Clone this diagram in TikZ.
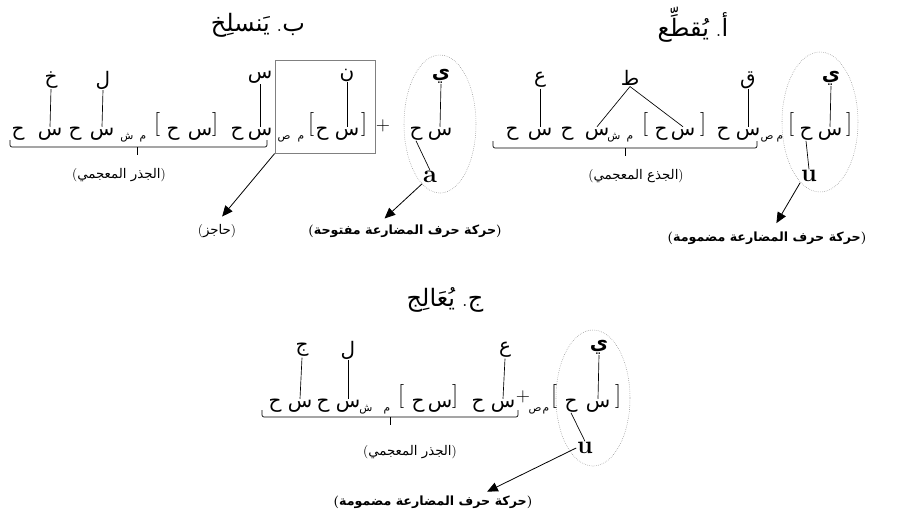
\documentclass[tikz,border=0pt]{standalone}
\usepackage{fontspec}
\usepackage{tikz}
\usetikzlibrary{positioning,arrows.meta}
\newfontfamily\ar[Script=Arabic]{DejaVu Sans}
\TeXXeTstate=1
\newcommand{\lp}{{\rmfamily(}}
\newcommand{\rp}{{\rmfamily)}}

\tikzset{
  seg/.style={font=\ar\fontsize{15}{17}\selectfont, inner sep=0.5pt, anchor=base},
  rootl/.style={font=\ar\fontsize{15}{17}\selectfont, inner sep=0.5pt},
  prefl/.style={font=\ar\bfseries\fontsize{15}{17}\selectfont, inner sep=0.5pt},
  tag/.style={font=\ar\fontsize{8}{9}\selectfont, inner sep=0pt, anchor=base},
  brk/.style={font=\fontsize{18}{20}\selectfont, inner sep=0pt},
  vowel/.style={font=\bfseries\fontsize{19}{20}\selectfont, inner sep=0.5pt},
  gloss/.style={font=\ar\fontsize{10}{12}\selectfont, inner sep=1pt},
  note/.style={font=\ar\bfseries\fontsize{9.5}{11}\selectfont, inner sep=1pt},
  ttl/.style={font=\ar\fontsize{18}{20}\selectfont},
  ring/.style={draw=gray, densely dotted, line width=0.4pt},
  link/.style={line width=0.5pt},
  pointer/.style={-{Triangle[length=8pt,width=7pt]}, line width=0.6pt},
  brace/.style={line width=0.5pt, rounded corners=1.5pt}
}

\begin{document}
\begin{tikzpicture}[x=0.75pt,y=-0.75pt]
\useasboundingbox (0,0) rectangle (900,519);

% ---- a. yuqatti3
\node[ttl] (titleA) at (693,25) {يُقطِّع\hspace{5pt}{\rmfamily.}أ};
\foreach \n/\x/\t in {V1/512/ح, C1/540/س, V2/567/ح, C2/597/س, V3/661/ح, C3/683/س,
    V4/723/ح, C4/748/س, V5/806/ح, C5/830/س}
  \node[seg] (a\n) at (\x,135) {\t};
\foreach \x/\t in {645/[, 703/], 791/[, 849/]}
  \node[brk] at (\x,124) {\t};
\node[tag] (aT1) at (614,139) {ش};
\node[tag] (aT2) at (630,139) {م};
\node[tag] (aT3) at (767,139) {ص};
\node[tag] (aT4) at (780,139) {م};
\node[rootl] (aAin) at (540,80) {ع};
\node[rootl] (aTa) at (630,78) {ط};
\node[rootl] (aQaf) at (748,80) {ق};
\node[prefl] (aYa) at (831,78) {ي};
\draw[link] (aAin.south) -- (aC1.north);
\draw[link] (aTa.south) -- (aC2.north);
\draw[link] (aTa.south) -- (aC3.north);
\draw[link] (aQaf.south) -- (aC4.north);
\draw[link] (aYa.south) -- (aC5.north);
\draw[brace] (493,141) -- (493,148) -- (757,148) -- (757,141);
\draw[link] (625,148) -- (625,156);
\node[gloss] (stemA) at (636,176) {\lp\beginR الجذع المعجمي\endR\rp};
\draw[ring] (820,122) ellipse [x radius=38, y radius=70];
\node[vowel] (vowA) at (809,176) {u};
\draw[link] (aV5.south) -- (vowA.north);
\node[note] (noteA) at (767,238) {\lp\beginR حركة حرف المضارعة مضمومة\endR\rp};
\draw[pointer, shorten >=6pt] (vowA.south west) -- ([xshift=4pt]noteA.north);

% ---- b. yansalix
\node[ttl] (titleB) at (258,25) {يَنسلِخ\hspace{5pt}{\rmfamily.}ب};
\foreach \n/\x/\t in {V1/18/ح, C1/50/س, V2/75/ح, C2/102/س, V3/173/ح, C3/200/س,
    V4/237/ح, C4/260/س, V5/322/ح, C5/347/س, V6/416/ح, C6/440/س}
  \node[seg] (b\n) at (\x,135) {\t};
\foreach \x/\t in {157/[, 215/], 311/[, 364/]}
  \node[brk] at (\x,124) {\t};
\node[tag] (bT1) at (127,139) {ش};
\node[tag] (bT2) at (143,139) {م};
\node[tag] (bT3) at (284,139) {ص};
\node[tag] (bT4) at (301,139) {م};
\node[font=\fontsize{14}{16}\selectfont] (bPlus) at (383,126) {+};
\node[rootl] (bXa) at (51,80) {خ};
\node[rootl] (bLam) at (103,80) {ل};
\node[rootl] (bSin) at (260,77) {س};
\node[rootl] (bNun) at (347,75) {ن};
\node[prefl] (bYa) at (441,76) {ي};
\draw[link] (bXa.south) -- (bC1.north);
\draw[link] (bLam.south) -- (bC2.north);
\draw[link] (bSin.south) -- (bC4.north);
\draw[link] (bNun.south) -- (bC5.north);
\draw[link] (bYa.south) -- (bC6.north);
\node[draw=gray, line width=0.5pt, minimum width=75pt, minimum height=70pt] (wall) at (325,106.5) {};
\draw[brace] (10,140) -- (10,147) -- (267,147) -- (267,140);
\draw[link] (137,147) -- (137,155);
\node[gloss] (rootB) at (119,175) {\lp\beginR الجذر المعجمي\endR\rp};
\draw[ring] (440,124) ellipse [x radius=36, y radius=69];
\node[vowel] (vowB) at (430,177) {a};
\draw[link] (bV6.south) -- (vowB.north);
\node[gloss] (barrier) at (217,231) {\lp\beginR حاجز\endR\rp};
\node[note] (noteB) at (405,231) {\lp\beginR حركة حرف المضارعة مفتوحة\endR\rp};
\draw[pointer, shorten >=6pt] (wall.south west) -- (barrier.north);
\draw[pointer, shorten >=5pt] (vowB.south west) -- ([xshift=-19pt]noteB.north);

% ---- c. yu3alij
\node[ttl] (titleC) at (445,300) {يُعَالِج\hspace{5pt}{\rmfamily.}ج};
\foreach \n/\x/\t in {V1/275/ح, C1/300/س, V2/323/ح, C2/348/س, V3/418/ح, C3/440/س,
    V4/478/ح, C4/503/س, V5/571/ح, C5/598/س}
  \node[seg] (c\n) at (\x,407) {\t};
\foreach \x/\t in {401/[, 455/], 554/[, 618/]}
  \node[brk] at (\x,396) {\t};
\node[tag] (cT1) at (366,411) {ش};
\node[tag] (cT2) at (387,411) {م};
\node[tag] (cT3) at (535,411) {ص};
\node[tag] (cT4) at (546,411) {م};
\node[font=\fontsize{14}{16}\selectfont] (cPlus) at (523,397) {+};
\node[rootl] (cJim) at (302,350) {ج};
\node[rootl] (cLam) at (348,350) {ل};
\node[rootl] (cAin) at (505,350) {ع};
\node[prefl] (cYa) at (599,347) {ي};
\draw[link] (cJim.south) -- (cC1.north);
\draw[link] (cLam.south) -- (cC2.north);
\draw[link] (cAin.south) -- (cC4.north);
\draw[link] (cYa.south) -- (cC5.north);
\draw[brace] (262,410) -- (262,417) -- (518,417) -- (518,410);
\draw[link] (390,417) -- (390,425);
\node[gloss] (rootC) at (410,452) {\lp\beginR الجذر المعجمي\endR\rp};
\draw[ring] (593,398) ellipse [x radius=37, y radius=68];
\node[vowel] (vowC) at (585,448) {u};
\draw[link] (cV5.south) -- (vowC.north);
\node[note] (noteC) at (433,502) {\lp\beginR حركة حرف المضارعة مضمومة\endR\rp};
\draw[pointer, shorten >=4pt] (vowC.west) -- ([xshift=37pt]noteC.north);
\end{tikzpicture}
\end{document}
